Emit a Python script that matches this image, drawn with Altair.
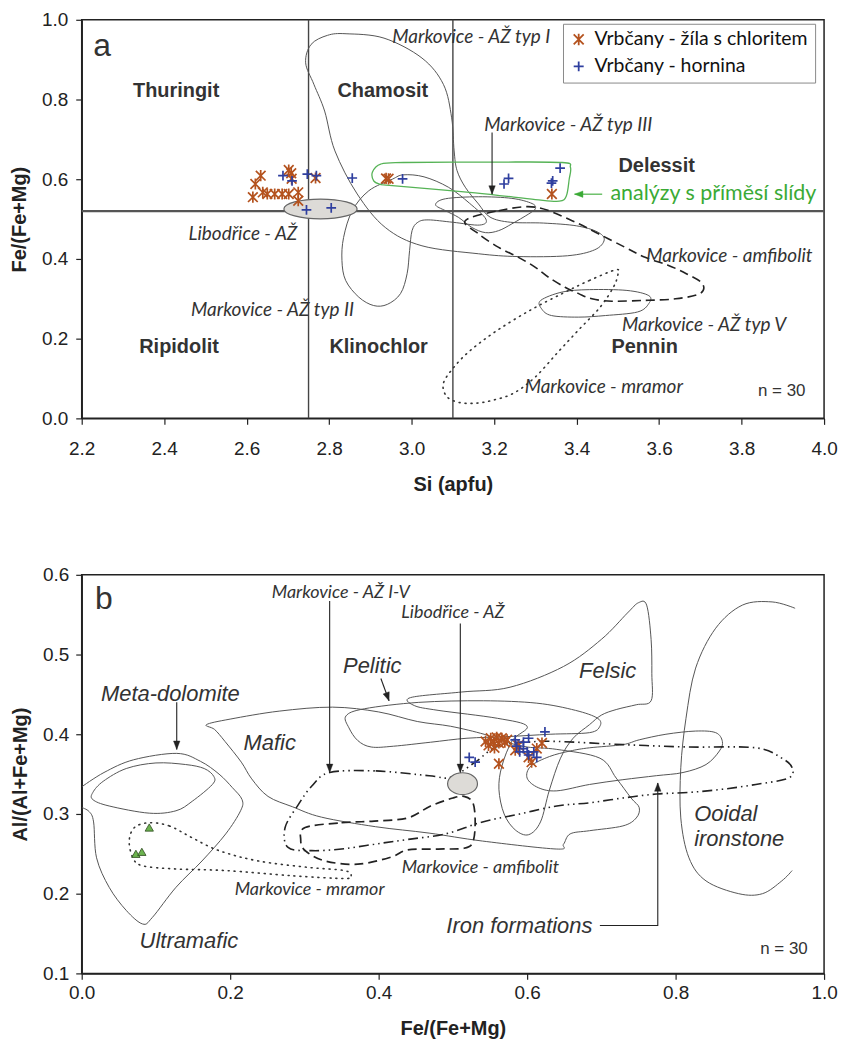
import altair as alt
import pandas as pd

ORANGE = "#b4521e"
BLUE = "#2f3f9f"
GREEN = "#3aaa35"
LINE = "#555555"
DARK = "#333333"

SER = ["Vrbčany - žíla s chloritem", "Vrbčany - hornina"]

# ---------------- Panel a : points ----------------
a_vein_si = [2.634, 2.621, 2.615, 2.639, 2.650, 2.668, 2.686, 2.702, 2.702, 2.708, 2.725, 2.725, 2.767, 2.938, 2.944, 3.340, 2.709]
a_vein_fe = [0.609, 0.588, 0.555, 0.567, 0.563, 0.563, 0.563, 0.563, 0.623, 0.615, 0.567, 0.546, 0.603, 0.602, 0.601, 0.563, 0.601]
a_rock_si = [2.688, 2.710, 2.747, 2.769, 2.856, 2.745, 2.805, 2.978, 3.224, 3.235, 3.339, 3.342, 3.360]
a_rock_fe = [0.609, 0.596, 0.613, 0.609, 0.603, 0.523, 0.528, 0.601, 0.588, 0.602, 0.590, 0.596, 0.628]

# ---------------- Panel b : points ----------------
b_vein_fe = [0.544, 0.548, 0.551, 0.555, 0.559, 0.562, 0.566, 0.570, 0.573, 0.562, 0.588, 0.584, 0.602, 0.606, 0.613, 0.620, 0.556]
b_vein_al = [0.391, 0.386, 0.395, 0.390, 0.396, 0.389, 0.395, 0.390, 0.393, 0.363, 0.386, 0.380, 0.371, 0.365, 0.382, 0.389, 0.383]
b_rock_fe = [0.522, 0.530, 0.584, 0.586, 0.595, 0.602, 0.624, 0.595, 0.600, 0.609, 0.613, 0.602, 0.590]
b_rock_al = [0.371, 0.365, 0.393, 0.385, 0.390, 0.395, 0.403, 0.382, 0.378, 0.378, 0.371, 0.374, 0.378]
b_marble_fe = [0.091, 0.073, 0.081]
b_marble_al = [0.283, 0.250, 0.2525]

# ---------------- Panel a : field outlines ----------------
a_typ1 = [(2.841, 0.965), (2.933, 0.954), (3.025, 0.904), (3.077, 0.838), (3.097, 0.754), (3.103, 0.671),
          (3.110, 0.622), (3.130, 0.580), (3.162, 0.538), (3.190, 0.505), (3.240, 0.492), (3.320, 0.490),
          (3.400, 0.483), (3.450, 0.468), (3.467, 0.448), (3.444, 0.423), (3.378, 0.408), (3.258, 0.406),
          (3.162, 0.413), (3.025, 0.433), (2.936, 0.479), (2.868, 0.563), (2.814, 0.671), (2.789, 0.771),
          (2.763, 0.838), (2.743, 0.892), (2.756, 0.938), (2.796, 0.961)]
a_typ2 = [(2.953, 0.600), (2.980, 0.611), (3.030, 0.606), (3.089, 0.580), (3.140, 0.540), (3.180, 0.500),
          (3.165, 0.485), (3.100, 0.492), (3.040, 0.498), (3.015, 0.492), (3.001, 0.471), (2.995, 0.421),
          (2.989, 0.363), (2.973, 0.313), (2.941, 0.286), (2.908, 0.283), (2.872, 0.304), (2.840, 0.346),
          (2.831, 0.396), (2.835, 0.454), (2.856, 0.521), (2.896, 0.571)]
a_typ3 = [(3.058, 0.536), (3.082, 0.551), (3.162, 0.556), (3.243, 0.552), (3.292, 0.539), (3.300, 0.526),
          (3.284, 0.513), (3.243, 0.488), (3.211, 0.471), (3.179, 0.466), (3.146, 0.479), (3.114, 0.504),
          (3.082, 0.521)]
a_amfibolit = [(3.130, 0.496), (3.211, 0.521), (3.300, 0.530), (3.389, 0.496), (3.453, 0.463), (3.518, 0.429),
               (3.566, 0.404), (3.620, 0.385), (3.666, 0.363), (3.705, 0.338), (3.699, 0.313), (3.640, 0.300),
               (3.566, 0.296), (3.486, 0.294), (3.437, 0.300), (3.405, 0.313), (3.372, 0.329), (3.332, 0.354),
               (3.300, 0.379), (3.259, 0.404), (3.211, 0.429), (3.162, 0.463)]
a_typ5 = [(3.313, 0.296), (3.365, 0.317), (3.431, 0.323), (3.522, 0.321), (3.575, 0.308), (3.575, 0.288),
          (3.548, 0.267), (3.470, 0.258), (3.404, 0.254), (3.339, 0.258), (3.315, 0.275)]
a_mramor = [(3.496, 0.373), (3.431, 0.346), (3.365, 0.313), (3.287, 0.271), (3.208, 0.221), (3.143, 0.171),
            (3.103, 0.129), (3.077, 0.088), (3.085, 0.055), (3.115, 0.040), (3.154, 0.038), (3.195, 0.045),
            (3.247, 0.063), (3.300, 0.104), (3.352, 0.163), (3.404, 0.221), (3.457, 0.279), (3.489, 0.329),
            (3.500, 0.360)]
a_mica = [(2.908, 0.596), (2.905, 0.618), (2.925, 0.638), (2.980, 0.642), (3.200, 0.643), (3.365, 0.642),
          (3.385, 0.630), (3.382, 0.600), (3.375, 0.558), (3.358, 0.545), (3.300, 0.549), (3.154, 0.566),
          (2.953, 0.584), (2.922, 0.588)]
a_libodrice = [(2.779, 0.5255)]

a_vlines = [2.75, 3.1]
a_hlines = [0.52]

# ---------------- Panel b : field outlines ----------------
b_metadol = [(0.015, 0.327), (0.029, 0.341), (0.060, 0.357), (0.100, 0.364), (0.140, 0.362), (0.165, 0.357),
             (0.178, 0.347), (0.176, 0.337), (0.149, 0.316), (0.127, 0.304), (0.091, 0.301), (0.037, 0.310),
             (0.015, 0.318)]
b_ultramafic = [(0.000, 0.334), (0.030, 0.352), (0.070, 0.368), (0.128, 0.376), (0.160, 0.366), (0.185, 0.350),
                (0.203, 0.333), (0.216, 0.318), (0.214, 0.304), (0.194, 0.275), (0.162, 0.241), (0.127, 0.208),
                (0.095, 0.170), (0.082, 0.162), (0.060, 0.179), (0.037, 0.208), (0.020, 0.245), (0.016, 0.290),
                (0.010, 0.303), (0.000, 0.308)]
b_mafic = [(0.168, 0.412), (0.200, 0.419), (0.266, 0.429), (0.338, 0.434), (0.400, 0.428), (0.452, 0.416),
           (0.497, 0.410), (0.542, 0.400), (0.569, 0.391), (0.600, 0.384), (0.640, 0.381), (0.698, 0.370),
           (0.720, 0.345), (0.740, 0.320), (0.751, 0.308), (0.747, 0.295), (0.729, 0.285), (0.684, 0.279),
           (0.658, 0.275), (0.649, 0.262), (0.640, 0.256), (0.540, 0.266), (0.468, 0.276), (0.396, 0.284),
           (0.323, 0.296), (0.284, 0.309), (0.251, 0.322), (0.229, 0.344), (0.215, 0.365), (0.193, 0.391),
           (0.179, 0.406)]
b_pelitic = [(0.356, 0.423), (0.381, 0.432), (0.454, 0.440), (0.541, 0.442), (0.613, 0.439), (0.665, 0.430),
             (0.695, 0.420), (0.698, 0.410), (0.684, 0.402), (0.631, 0.400), (0.573, 0.397), (0.519, 0.395),
             (0.470, 0.390), (0.420, 0.385), (0.390, 0.384), (0.372, 0.392), (0.360, 0.408)]
b_felsic = [(0.443, 0.446), (0.512, 0.453), (0.577, 0.459), (0.649, 0.485), (0.700, 0.519), (0.735, 0.552),
            (0.750, 0.565), (0.761, 0.562), (0.767, 0.519), (0.768, 0.476), (0.767, 0.442), (0.747, 0.437),
            (0.720, 0.431), (0.700, 0.424), (0.684, 0.412), (0.662, 0.395), (0.645, 0.370), (0.630, 0.330),
            (0.618, 0.290), (0.602, 0.274), (0.584, 0.280), (0.569, 0.300), (0.562, 0.331), (0.566, 0.360),
            (0.580, 0.392), (0.600, 0.410), (0.560, 0.420), (0.480, 0.430), (0.448, 0.436)]
b_ironform = [(0.640, 0.329), (0.684, 0.337), (0.729, 0.343), (0.774, 0.348), (0.810, 0.352), (0.841, 0.362),
              (0.859, 0.379), (0.863, 0.391), (0.854, 0.402), (0.827, 0.404), (0.787, 0.400), (0.751, 0.393),
              (0.729, 0.387), (0.684, 0.383), (0.658, 0.379), (0.630, 0.372), (0.605, 0.360), (0.600, 0.345),
              (0.615, 0.333)]
b_ooidal = [(0.961, 0.558), (0.930, 0.566), (0.890, 0.562), (0.854, 0.533), (0.827, 0.483), (0.814, 0.420),
            (0.807, 0.358), (0.807, 0.295), (0.818, 0.245), (0.841, 0.216), (0.885, 0.200), (0.917, 0.200),
            (0.943, 0.216), (0.957, 0.229)]
b_azIV = [(0.334, 0.352), (0.396, 0.354), (0.468, 0.348), (0.497, 0.346), (0.530, 0.365), (0.560, 0.385),
          (0.600, 0.390), (0.640, 0.391), (0.729, 0.387), (0.818, 0.384), (0.908, 0.383), (0.943, 0.370),
          (0.957, 0.358), (0.952, 0.345), (0.908, 0.337), (0.863, 0.331), (0.818, 0.327), (0.774, 0.325),
          (0.729, 0.320), (0.684, 0.314), (0.640, 0.310), (0.590, 0.300), (0.540, 0.290), (0.490, 0.275),
          (0.439, 0.268), (0.394, 0.262), (0.350, 0.256), (0.310, 0.254), (0.278, 0.258), (0.274, 0.283),
          (0.292, 0.312), (0.310, 0.335)]
b_amfibolit = [(0.301, 0.283), (0.350, 0.289), (0.394, 0.291), (0.439, 0.295), (0.470, 0.310), (0.500, 0.320),
               (0.515, 0.322), (0.527, 0.314), (0.530, 0.290), (0.527, 0.265), (0.515, 0.257), (0.480, 0.256),
               (0.439, 0.255), (0.417, 0.246), (0.372, 0.237), (0.328, 0.241), (0.301, 0.254), (0.295, 0.268)]
b_mramor = [(0.091, 0.289), (0.118, 0.285), (0.149, 0.270), (0.185, 0.254), (0.238, 0.241), (0.305, 0.233),
            (0.354, 0.229), (0.363, 0.2225), (0.354, 0.219), (0.283, 0.2225), (0.194, 0.229), (0.127, 0.231),
            (0.082, 0.235), (0.069, 0.245), (0.064, 0.266), (0.071, 0.283)]
b_libodrice = [(0.513, 0.338)]

# ---------------- texts ----------------
a_region_txt = ["Thuringit", "Chamosit", "Delessit", "Ripidolit", "Klinochlor", "Pennin"]
a_region_x = [2.429, 2.930, 3.594, 2.436, 2.920, 3.565]
a_region_y = [0.821, 0.821, 0.633, 0.179, 0.179, 0.179]
a_note_txt = ["Markovice - AŽ typ I", "Markovice - AŽ typ III", "Libodřice - AŽ", "Markovice - amfibolit",
              "Markovice - AŽ typ II", "Markovice - AŽ typ V", "Markovice - mramor"]
a_note_x = [2.953, 3.176, 2.459, 3.569, 2.465, 3.510, 3.274]
a_note_y = [0.956, 0.736, 0.4625, 0.408, 0.271, 0.233, 0.079]

b_field_txt = ["Meta-dolomite", "Pelitic", "Mafic", "Felsic", "Ultramafic", "Ooidal", "ironstone"]
b_field_x = [0.026, 0.352, 0.218, 0.670, 0.078, 0.825, 0.825]
b_field_y = [0.451, 0.486, 0.389, 0.479, 0.140, 0.300, 0.268]
b_note_txt = ["Markovice - AŽ I-V", "Libodřice - AŽ", "Markovice - amfibolit", "Markovice - mramor"]
b_note_x = [0.349, 0.500, 0.537, 0.307]
b_note_y = [0.577, 0.552, 0.232, 0.204]

ASTER = "M-1,-1L1,1M-1,1L1,-1M0,-1.15L0,1.15"
PLUS = "M-1,0L1,0M0,-1L0,1"
HEAD = "M0,0L-1,-2.6L1,-2.6Z"
ELL_A = "M-1,0C-1,-0.149,-0.552,-0.27,0,-0.27C0.552,-0.27,1,-0.149,1,0C1,0.149,0.552,0.27,0,0.27C-0.552,0.27,-1,0.149,-1,0Z"
ELL_B = "M-1,0C-1,-0.403,-0.552,-0.73,0,-0.73C0.552,-0.73,1,-0.403,1,0C1,0.403,0.552,0.73,0,0.73C-0.552,0.73,-1,0.403,-1,0Z"

W = 745
H = 400


def make_xy(xdom, ydom, xvals, yvals, xtitle, ytitle, xpad, ypad):
    def X():
        return alt.X("x:Q", scale=alt.Scale(domain=xdom, nice=False, zero=False),
                     axis=alt.Axis(values=xvals, format=".1f", title=xtitle, labelPadding=xpad))
    def Y():
        return alt.Y("y:Q", scale=alt.Scale(domain=ydom, nice=False, zero=False),
                     axis=alt.Axis(values=yvals, format=".1f", title=ytitle, labelPadding=ypad))
    return X, Y


def poly(pts, X, Y, color=LINE, width=1.0, dash=None, closed=True, cap="butt"):
    df = pd.DataFrame({"x": [p[0] for p in pts], "y": [p[1] for p in pts], "i": list(range(len(pts)))})
    kw = dict(color=color, strokeWidth=width, interpolate="cardinal-closed" if closed else "cardinal",
              clip=True, strokeCap=cap)
    if dash:
        kw["strokeDash"] = dash
    return alt.Chart(df).mark_line(**kw).encode(x=X(), y=Y(), order="i:Q")


def arrow(xs, ys, angle, X, Y, color="#222"):
    df = pd.DataFrame({"x": xs, "y": ys, "i": list(range(len(xs)))})
    ln = alt.Chart(df).mark_line(color=color, strokeWidth=1.1).encode(x=X(), y=Y(), order="i:Q")
    hd = alt.Chart(pd.DataFrame({"x": [xs[-1]], "y": [ys[-1]]})).mark_point(
        shape=HEAD, filled=True, fill=color, stroke=color, strokeWidth=0.4, size=42, angle=angle, opacity=1
    ).encode(x=X(), y=Y())
    return ln + hd


def texts(txt, xs, ys, X, Y, **kw):
    df = pd.DataFrame({"x": xs, "y": ys, "t": txt})
    return alt.Chart(df).mark_text(baseline="middle", **kw).encode(x=X(), y=Y(), text="t:N")


def points_layer(vx, vy, rx, ry, X, Y, legend):
    df = pd.concat([
        pd.DataFrame({"x": vx, "y": vy, "s": SER[0]}),
        pd.DataFrame({"x": rx, "y": ry, "s": SER[1]}),
    ])
    return alt.Chart(df).mark_point(filled=False, size=95, strokeWidth=1.7, opacity=1).encode(
        x=X(), y=Y(),
        color=alt.Color("s:N", scale=alt.Scale(domain=SER, range=[ORANGE, BLUE]), legend=legend, title=None),
        shape=alt.Shape("s:N", scale=alt.Scale(domain=SER, range=[ASTER, PLUS]), legend=legend, title=None),
    )


# ================= Panel a =================
XA, YA = make_xy([2.2, 4.0], [0, 1], [2.2, 2.4, 2.6, 2.8, 3.0, 3.2, 3.4, 3.6, 3.8, 4.0],
                 [0, 0.2, 0.4, 0.6, 0.8, 1.0], "Si (apfu)", "Fe/(Fe+Mg)", 15, 8)

legend_a = alt.Legend(orient="none", legendX=483, legendY=4, title=None, strokeColor="#8a8a8a",
                      fillColor="white", padding=6, labelFont="Lato", labelFontSize=19.5, labelColor="#111",
                      symbolSize=100, symbolStrokeWidth=1.8, rowPadding=6, labelLimit=400, labelOffset=6)

a_layers = [
    alt.Chart(pd.DataFrame({"x": a_vlines})).mark_rule(color="#444", strokeWidth=1.4).encode(x=XA()),
    alt.Chart(pd.DataFrame({"y": a_hlines})).mark_rule(color="#555", strokeWidth=2.2).encode(y=YA()),
    poly(a_typ1, XA, YA),
    poly(a_typ2, XA, YA),
    poly(a_typ3, XA, YA),
    poly(a_typ5, XA, YA),
    poly(a_amfibolit, XA, YA, color="#222", width=1.6, dash=[9, 5]),
    poly(a_mramor, XA, YA, color="#333", width=1.6, dash=[1, 5], cap="round"),
    poly(a_mica, XA, YA, color="#56b356", width=1.3),
    alt.Chart(pd.DataFrame({"x": [p[0] for p in a_libodrice], "y": [p[1] for p in a_libodrice]})).mark_point(
        shape=ELL_A, filled=True, fill="#dddbd7", stroke="#666", strokeWidth=1.2, size=5400, opacity=1
    ).encode(x=XA(), y=YA()),
    points_layer(a_vein_si, a_vein_fe, a_rock_si, a_rock_fe, XA, YA, legend_a),
    texts(a_region_txt, a_region_x, a_region_y, XA, YA, align="center", font="Liberation Sans",
          fontSize=20, fontWeight="bold", color=DARK),
    texts(a_note_txt, a_note_x, a_note_y, XA, YA, align="left", font="Lato", fontSize=19,
          fontStyle="italic", color=DARK),
    texts(["analýzy s příměsí slídy"], [3.482], [0.5625], XA, YA, align="left", font="Lato", fontSize=21.5,
          color=GREEN),
    texts(["a"], [2.228], [0.935], XA, YA, align="left", font="Liberation Sans", fontSize=32, color=DARK),
    texts(["n = 30"], [3.955], [0.069], XA, YA, align="right", font="Liberation Sans", fontSize=17,
          color=DARK),
    arrow([3.195, 3.195], [0.717, 0.5625], 0, XA, YA),
    arrow([3.462, 3.395], [0.5625, 0.5625], 90, XA, YA, color=GREEN),
]
panel_a = alt.layer(*a_layers).properties(width=W, height=H)

# ================= Panel b =================
XB, YB = make_xy([0, 1], [0.1, 0.6], [0, 0.2, 0.4, 0.6, 0.8, 1.0], [0.1, 0.2, 0.3, 0.4, 0.5, 0.6],
                 "Fe/(Fe+Mg)", "Al/(Al+Fe+Mg)", 4, 7)

b_layers = [
    poly(b_metadol, XB, YB),
    poly(b_ultramafic, XB, YB, closed=False),
    poly(b_mafic, XB, YB),
    poly(b_pelitic, XB, YB),
    poly(b_felsic, XB, YB),
    poly(b_ironform, XB, YB),
    poly(b_ooidal, XB, YB, closed=False),
    poly(b_azIV, XB, YB, color="#222", width=1.6, dash=[10, 4, 1.5, 4, 1.5, 4]),
    poly(b_amfibolit, XB, YB, color="#222", width=1.7, dash=[9, 5]),
    poly(b_mramor, XB, YB, color="#333", width=1.6, dash=[1, 5], cap="round"),
    alt.Chart(pd.DataFrame({"x": [p[0] for p in b_libodrice], "y": [p[1] for p in b_libodrice]})).mark_point(
        shape=ELL_B, filled=True, fill="#dddbd7", stroke="#666", strokeWidth=1.2, size=900, opacity=1
    ).encode(x=XB(), y=YB()),
    points_layer(b_vein_fe, b_vein_al, b_rock_fe, b_rock_al, XB, YB, None),
    alt.Chart(pd.DataFrame({"x": b_marble_fe, "y": b_marble_al})).mark_point(
        shape="triangle-up", filled=True, fill="#6cb34f", stroke="#2d4a1e", strokeWidth=0.8, size=70, opacity=1
    ).encode(x=XB(), y=YB()),
    texts(b_field_txt, b_field_x, b_field_y, XB, YB, align="left", font="Liberation Sans", fontSize=22,
          fontStyle="italic", color=DARK),
    texts(["Iron formations"], [0.688], [0.159], XB, YB, align="right", font="Liberation Sans", fontSize=22,
          fontStyle="italic", color=DARK),
    texts(b_note_txt, b_note_x, b_note_y, XB, YB, align="center", font="Lato", fontSize=18,
          fontStyle="italic", color=DARK),
    texts(["b"], [0.018], [0.569], XB, YB, align="left", font="Liberation Sans", fontSize=32, color=DARK),
    texts(["n = 30"], [0.978], [0.131], XB, YB, align="right", font="Liberation Sans", fontSize=17,
          color=DARK),
    arrow([0.128, 0.128], [0.440, 0.381], 0, XB, YB),
    arrow([0.403, 0.414], [0.470, 0.442], 340, XB, YB),
    arrow([0.334, 0.334], [0.567, 0.352], 0, XB, YB),
    arrow([0.510, 0.510], [0.539, 0.352], 0, XB, YB),
    arrow([0.698, 0.776, 0.776], [0.160, 0.160, 0.339], 180, XB, YB),
]
panel_b = alt.layer(*b_layers).properties(width=W, height=H)

chart = alt.vconcat(panel_a, panel_b, spacing=70).resolve_scale(
    color="independent", shape="independent"
).properties(
    padding={"left": 8, "top": 8, "right": 5, "bottom": 5},
    background="white",
).configure_view(
    stroke="#222", strokeWidth=1.5
).configure_axis(
    labelFont="Liberation Sans", labelFontSize=19, labelColor="#222",
    titleFont="Liberation Sans", titleFontSize=20, titleColor="#222", titleFontWeight="bold",
    tickSize=6, tickColor="#222", tickWidth=1.2, domainColor="#222", domainWidth=1.5, grid=False,
    labelFlush=False,
).configure_axisX(titlePadding=16).configure_axisY(titlePadding=12)

chart.save("out.html", embed_options={"renderer": "svg", "actions": False})
